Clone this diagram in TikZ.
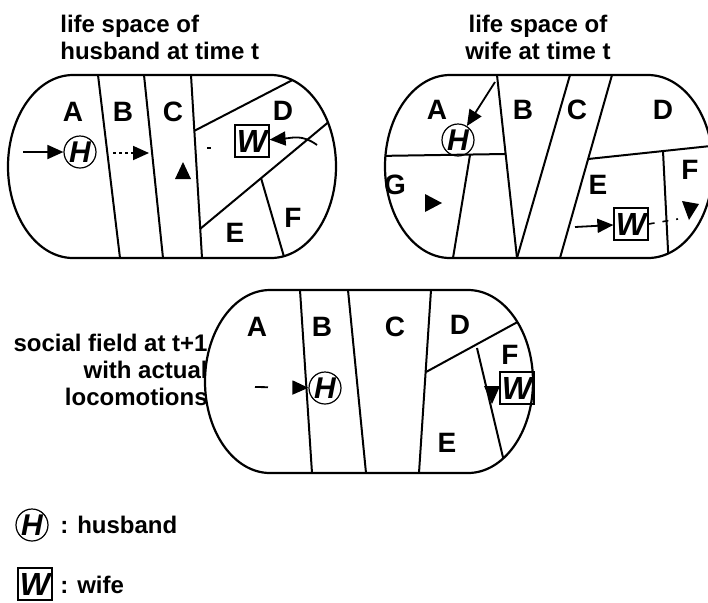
\documentclass[tikz,border=0pt]{standalone}
\usepackage{fontspec}
\setmainfont{Liberation Sans}
\usetikzlibrary{arrows.meta}
\newcommand{\lsoval}[2]{({#1+65},#2) -- ({#1+263},#2)
  arc[start angle=-90,end angle=90,x radius=65,y radius=91.5]
  -- ({#1+65},{#2+183})
  arc[start angle=90,end angle=270,x radius=65,y radius=91.5] -- cycle}

\begin{document}
\begin{tikzpicture}[x=0.5pt,y=-0.5pt,
  bound/.style={line width=1.1pt},
  part/.style={line width=1pt},
  reg/.style={font=\fontsize{14}{14}\selectfont\bfseries},
  hd/.style={font=\fontsize{12}{13.5}\selectfont\bfseries,inner sep=0pt},
  hub/.style={circle,draw,line width=0.6pt,minimum size=16pt,inner sep=0pt,
    font=\fontsize{15}{15}\selectfont\bfseries\itshape},
  wif/.style={rectangle,draw,line width=0.6pt,minimum width=17pt,
    minimum height=16pt,inner sep=0pt,
    font=\fontsize{16}{16}\selectfont\bfseries\itshape},
  tip/.style={line width=0.9pt,-{Triangle[length=8pt,width=7pt]}}]

\useasboundingbox (0,0) rectangle (708,602);

% life space of the husband
\begin{scope}
\clip \lsoval{8}{75};
\draw[part] (98,75) -- (120,258);
\draw[part] (144,75) -- (163,258);
\draw[part] (191,75) -- (202,258);
\draw[part] (194,131) -- (306,73);
\draw[part] (200,229) -- (343,110);
\draw[part] (261,178) -- (287,267);
\end{scope}
\draw[bound] \lsoval{8}{75};

\node[hd,anchor=north west,align=left] (t1) at (60,15)
{life space of\\husband at time t};

\node[reg] (a1) at (73,112) {A};
\node[reg] (b1) at (123,112) {B};
\node[reg] (c1) at (173,112) {C};
\node[reg] (d1) at (283,111) {D};
\node[reg] (e1) at (235,233) {E};
\node[reg] (f1) at (293,218) {F};

\node[hub] (h1) at (80,152) {H};
\coordinate (h1in) at (23,152);
\draw[tip] (h1in) -- (h1);

\coordinate (b1s) at (113,153);
\coordinate (b1e) at (149,153);
\draw[tip,dash pattern=on 1.5pt off 1.5pt] (b1s) -- (b1e);

\fill (175,179) -- (191,179) -- (183,162) -- cycle;
\draw[line width=0.6pt] (207,148) -- (211,148);

\node[wif] (w1) at (252,141) {W};
\coordinate (w1in) at (317,145);
\draw[tip] (w1in) .. controls (302,134) and (292,138) .. (w1);

% life space of the wife
\begin{scope}
\clip \lsoval{385}{75};
\draw[part] (497,75) -- (517,258);
\draw[part] (517,258) -- (570,75);
\draw[part] (612,75) -- (560,258);
\draw[part] (375,156) -- (505,154);
\draw[part] (470,155) -- (453,258);
\draw[part] (588,159) -- (720,145);
\draw[part] (663,151) -- (669,270);
\end{scope}
\draw[bound] \lsoval{385}{75};

\node[hd,anchor=north,align=center] (t2) at (538,15)
{life space of\\wife at time t};

\node[reg] (a2) at (437,110) {A};
\node[reg] (b2) at (523,110) {B};
\node[reg] (c2) at (577,110) {C};
\node[reg] (d2) at (663,110) {D};
\node[reg] (g2) at (395,185) {G};
\node[reg] (e2) at (598,185) {E};
\node[reg] (f2) at (690,170) {F};

\node[hub] (h2) at (458,140) {H};
\coordinate (h2in) at (495,82);
\draw[tip] (h2in) -- (h2);

\fill (425,194) -- (425,212) -- (442,203) -- cycle;

\node[wif] (w2) at (631,224) {W};
\coordinate (w2in) at (575,227);
\draw[tip] (w2in) -- (w2);
\coordinate (w2out) at (678,219);
\draw[line width=0.8pt,dash pattern=on 3pt off 4pt] (w2.east) -- (w2out);
\fill (682,201) -- (699,204) -- (689,220) -- cycle;

% social field at t+1
\begin{scope}
\clip \lsoval{205}{290};
\draw[part] (300,290) -- (312,473);
\draw[part] (348,290) -- (366,473);
\draw[part] (431,290) -- (419,473);
\draw[part] (426,372) -- (545,307);
\draw[part] (477,348) -- (506,470);
\end{scope}
\draw[bound] \lsoval{205}{290};

\node[hd,anchor=north east,align=right] (t3) at (208,334)
{social field at t+1\\with actual\\locomotions};

\node[reg] (a3) at (257,327) {A};
\node[reg] (b3) at (322,327) {B};
\node[reg] (c3) at (395,327) {C};
\node[reg] (d3) at (460,325) {D};
\node[reg] (f3) at (510,355) {F};
\node[reg] (e3) at (447,443) {E};

\node[hub] (h3) at (325,388) {H};
\coordinate (h3in) at (255,387);
\draw[tip,dash pattern=on 6.5pt off 40pt] (h3in) -- (h3);

\node[wif] (w3) at (517,388) {W};
\fill (484,386) -- (500,386) -- (492,404) -- cycle;

% key
\node[hub] (kh) at (32,525) {H};
\node[hd,anchor=west] (kht) at (60,525) {: husband};
\node[wif] (kw) at (35,584) {W};
\node[hd,anchor=west] (kwt) at (60,585) {: wife};

\end{tikzpicture}
\end{document}
